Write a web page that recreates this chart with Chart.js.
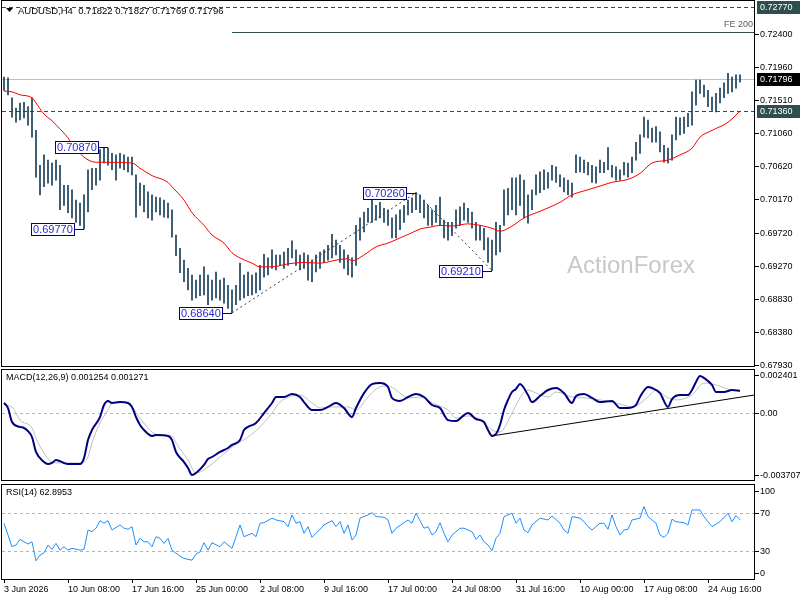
<!DOCTYPE html>
<html>
<head>
<meta charset="utf-8">
<title>AUDUSD H4</title>
<script src="https://cdn.jsdelivr.net/npm/chart.js@4.4.1/dist/chart.umd.min.js"></script>
<style>
  body { margin: 0; background: #fff; }
  #wrap { position: relative; width: 800px; height: 600px; background: #fff; overflow: hidden; }
  canvas { position: absolute; left: 0; }
</style>
</head>
<body>
<div id="wrap">
  <canvas id="mainChart" width="800" height="372" style="top:0"></canvas>
  <canvas id="macdChart" width="800" height="114" style="top:368px"></canvas>
  <canvas id="rsiChart" width="800" height="117" style="top:483px"></canvas>
</div>
<script>
const FONT = '"Liberation Sans", Arial, sans-serif';

// time axis labels, one every 16 bars (8h bars)
const tickLabels = ['3 Jun 2026', '10 Jun 08:00', '17 Jun 16:00', '25 Jun 00:00', '2 Jul 08:00', '9 Jul 16:00',
    '17 Jul 00:00', '24 Jul 08:00', '31 Jul 16:00', '10 Aug 00:00', '17 Aug 08:00', '24 Aug 16:00'];

// price bars (high / low)
const barHigh = [
    0.7182, 0.7181, 0.7154, 0.7140, 0.7147, 0.7148, 0.7142, 0.7154,
    0.7110, 0.7063, 0.7077, 0.7070, 0.7066, 0.7070, 0.7063, 0.7036,
    0.7036, 0.7030, 0.7016, 0.7012, 0.7023, 0.7057, 0.7059, 0.7059,
    0.7084, 0.7087, 0.7086, 0.7079, 0.7077, 0.7079, 0.7077, 0.7074,
    0.7074, 0.7050, 0.7039, 0.7036, 0.7027, 0.7023, 0.7020, 0.7019,
    0.7016, 0.7012, 0.7003, 0.6969, 0.6951, 0.6935, 0.6924, 0.6915,
    0.6908, 0.6915, 0.6926, 0.6915, 0.6908, 0.6919, 0.6908, 0.6911,
    0.6901, 0.6895, 0.6901, 0.6931, 0.6915, 0.6919, 0.6915, 0.6918,
    0.6928, 0.6943, 0.6938, 0.6949, 0.6942, 0.6942, 0.6946, 0.6951,
    0.6961, 0.6949, 0.6942, 0.6945, 0.6942, 0.6935, 0.6942, 0.6946,
    0.6949, 0.6955, 0.6970, 0.6962, 0.6955, 0.6949, 0.6942, 0.6938,
    0.6982, 0.6992, 0.7000, 0.7005, 0.7020, 0.7009, 0.7013, 0.7005,
    0.7003, 0.6992, 0.6996, 0.7003, 0.7009, 0.7016, 0.7019, 0.7026,
    0.7023, 0.7016, 0.7009, 0.7003, 0.7009, 0.7020, 0.6989, 0.6986,
    0.6986, 0.7003, 0.7007, 0.7012, 0.7005, 0.7000, 0.6986, 0.6982,
    0.6978, 0.6965, 0.6962, 0.6986, 0.6982, 0.7030, 0.7032, 0.7046,
    0.7046, 0.7050, 0.7043, 0.7023, 0.7030, 0.7050, 0.7054, 0.7057,
    0.7053, 0.7063, 0.7061, 0.7050, 0.7046, 0.7043, 0.7039, 0.7077,
    0.7074, 0.7070, 0.7067, 0.7063, 0.7061, 0.7070, 0.7067, 0.7087,
    0.7063, 0.7061, 0.7057, 0.7067, 0.7066, 0.7074, 0.7094, 0.7104,
    0.7128, 0.7124, 0.7113, 0.7115, 0.7108, 0.7090, 0.7086, 0.7104,
    0.7128, 0.7127, 0.7128, 0.7133, 0.7162, 0.7178, 0.7178, 0.7171,
    0.7164, 0.7155, 0.7160, 0.7167, 0.7174, 0.7187, 0.7182, 0.7185,
    0.7185
];
const barLow = [
    0.7164, 0.7158, 0.7128, 0.7121, 0.7124, 0.7127, 0.7117, 0.7101,
    0.7047, 0.7023, 0.7034, 0.7039, 0.7036, 0.7043, 0.7003, 0.7009,
    0.6999, 0.6992, 0.6986, 0.6982, 0.6977, 0.7000, 0.7030, 0.7036,
    0.7043, 0.7066, 0.7063, 0.7057, 0.7043, 0.7059, 0.7057, 0.7054,
    0.7050, 0.6993, 0.7009, 0.7000, 0.6992, 0.6989, 0.7000, 0.6996,
    0.6993, 0.6992, 0.6966, 0.6941, 0.6918, 0.6906, 0.6895, 0.6881,
    0.6884, 0.6887, 0.6888, 0.6875, 0.6881, 0.6884, 0.6881, 0.6877,
    0.6870, 0.6864, 0.6875, 0.6881, 0.6884, 0.6887, 0.6888, 0.6891,
    0.6895, 0.6912, 0.6915, 0.6924, 0.6922, 0.6928, 0.6924, 0.6928,
    0.6938, 0.6928, 0.6922, 0.6924, 0.6908, 0.6906, 0.6919, 0.6924,
    0.6932, 0.6935, 0.6938, 0.6942, 0.6932, 0.6924, 0.6915, 0.6912,
    0.6928, 0.6962, 0.6973, 0.6986, 0.6986, 0.6989, 0.6992, 0.6986,
    0.6982, 0.6965, 0.6965, 0.6976, 0.6986, 0.6996, 0.6999, 0.7003,
    0.6999, 0.6992, 0.6982, 0.6982, 0.6986, 0.6982, 0.6965, 0.6962,
    0.6968, 0.6978, 0.6982, 0.6989, 0.6986, 0.6978, 0.6962, 0.6962,
    0.6949, 0.6932, 0.6921, 0.6942, 0.6946, 0.6982, 0.6996, 0.7003,
    0.6996, 0.7009, 0.6992, 0.6985, 0.7003, 0.7023, 0.7026, 0.7030,
    0.7032, 0.7043, 0.7040, 0.7034, 0.7027, 0.7023, 0.7020, 0.7053,
    0.7054, 0.7053, 0.7050, 0.7040, 0.7039, 0.7053, 0.7053, 0.7057,
    0.7047, 0.7043, 0.7043, 0.7050, 0.7047, 0.7053, 0.7070, 0.7079,
    0.7101, 0.7100, 0.7094, 0.7094, 0.7081, 0.7067, 0.7066, 0.7070,
    0.7097, 0.7104, 0.7106, 0.7115, 0.7117, 0.7144, 0.7160, 0.7155,
    0.7142, 0.7137, 0.7135, 0.7147, 0.7154, 0.7160, 0.7162, 0.7167,
    0.7175
];

// moving average [bar, value]
const maLine = [
    [0, 0.7163], [2, 0.7162], [4, 0.7158], [7, 0.7154], [8, 0.7147], [10, 0.7132], [12, 0.7123], [14, 0.7112],
    [16, 0.7100], [17, 0.7092], [20, 0.7074], [23, 0.7067], [27, 0.7067], [32, 0.7066], [34, 0.7059], [37, 0.7049],
    [41, 0.7040], [42, 0.7034], [45, 0.7016], [47, 0.6999], [50, 0.6982], [52, 0.6969], [55, 0.6958], [57, 0.6945],
    [59, 0.6938], [62, 0.6931], [64, 0.6926], [67, 0.6926], [71, 0.6930], [75, 0.6932], [79, 0.6931], [83, 0.6935],
    [86, 0.6937], [87, 0.6934], [90, 0.6942], [93, 0.6953], [96, 0.6958], [99, 0.6965], [102, 0.6972], [104, 0.6977],
    [107, 0.6980], [109, 0.6982], [112, 0.6981], [116, 0.6984], [119, 0.6982], [122, 0.6978], [124, 0.6974], [127, 0.6981],
    [130, 0.6992], [134, 0.7001], [139, 0.7013], [142, 0.7023], [146, 0.7030], [149, 0.7035], [152, 0.7040], [156, 0.7044],
    [159, 0.7052], [162, 0.7066], [166, 0.7070], [169, 0.7077], [172, 0.7086], [174, 0.7101], [177, 0.7110], [181, 0.7121],
    [184, 0.7136]
];

// MACD(12,26,9) main and signal [bar, value]
const macdMain = [
    [0, 0.00057], [1, 0.00029], [2, -0.00049], [4, -0.00076], [5, -0.00082], [6, -0.00099], [7, -0.00132], [8, -0.00215],
    [10, -0.00271], [11, -0.00282], [12, -0.00276], [13, -0.00260], [15, -0.00276], [16, -0.00282], [19, -0.00282], [20, -0.00249],
    [21, -0.00149], [22, -0.00093], [24, -0.00021], [25, 0.00046], [26, 0.00068], [27, 0.00057], [29, 0.00062], [31, 0.00057],
    [32, 0.00035], [33, -0.00021], [34, -0.00065], [35, -0.00093], [37, -0.00126], [38, -0.00121], [41, -0.00126], [42, -0.00149],
    [43, -0.00215], [45, -0.00271], [46, -0.00304], [47, -0.00343], [48, -0.00332], [50, -0.00287], [51, -0.00254], [52, -0.00243],
    [54, -0.00215], [56, -0.00193], [57, -0.00176], [59, -0.00149], [60, -0.00093], [61, -0.00076], [63, -0.00054], [65, 0.00001],
    [67, 0.00057], [68, 0.00090], [70, 0.00090], [72, 0.00107], [74, 0.00090], [75, 0.00062], [77, 0.00018], [79, 0.00018],
    [81, 0.00035], [83, 0.00057], [85, 0.00029], [87, -0.00021], [88, 0.00029], [90, 0.00112], [92, 0.00162], [94, 0.00168],
    [96, 0.00146], [97, 0.00085], [99, 0.00068], [101, 0.00090], [103, 0.00107], [105, 0.00090], [107, 0.00046], [109, 0.00029],
    [111, -0.00038], [113, -0.00043], [115, -0.00010], [116, 0.00001], [118, -0.00032], [120, -0.00049], [121, -0.00093], [122, -0.00126],
    [123, -0.00115], [124, -0.00065], [125, 0.00018], [126, 0.00074], [127, 0.00118], [128, 0.00135], [129, 0.00162], [131, 0.00101],
    [132, 0.00062], [134, 0.00096], [136, 0.00129], [138, 0.00140], [140, 0.00112], [142, 0.00057], [143, 0.00096], [145, 0.00107],
    [147, 0.00085], [149, 0.00062], [152, 0.00068], [154, 0.00029], [156, 0.00029], [158, 0.00046], [159, 0.00090], [161, 0.00146],
    [162, 0.00140], [164, 0.00112], [166, 0.00035], [167, 0.00079], [169, 0.00101], [171, 0.00101], [172, 0.00129], [173, 0.00174],
    [174, 0.00207], [175, 0.00196], [177, 0.00157], [178, 0.00118], [180, 0.00118], [182, 0.00129], [184, 0.001254]
];
const macdSignal = [
    [0, 0.00046], [2, 0.00035], [4, -0.00038], [7, -0.00082], [8, -0.00138], [10, -0.00221], [12, -0.00271], [14, -0.00276],
    [19, -0.00276], [21, -0.00243], [22, -0.00165], [24, -0.00054], [26, 0.00018], [27, 0.00057], [30, 0.00062], [32, 0.00035],
    [34, -0.00027], [37, -0.00104], [39, -0.00121], [42, -0.00126], [43, -0.00165], [46, -0.00260], [48, -0.00332], [51, -0.00299],
    [54, -0.00243], [57, -0.00188], [61, -0.00132], [64, -0.00076], [67, 0.00001], [69, 0.00062], [72, 0.00096], [74, 0.00101],
    [77, 0.00057], [79, 0.00029], [82, 0.00035], [86, 0.00035], [88, 0.00018], [91, 0.00090], [94, 0.00146], [96, 0.00151],
    [99, 0.00112], [101, 0.00085], [104, 0.00090], [107, 0.00057], [111, 0.00018], [113, -0.00027], [116, -0.00015], [119, -0.00038],
    [122, -0.00093], [124, -0.00104], [127, 0.00001], [129, 0.00085], [131, 0.00129], [133, 0.00112], [136, 0.00090], [138, 0.00118],
    [142, 0.00090], [145, 0.00085], [149, 0.00074], [153, 0.00057], [157, 0.00035], [161, 0.00090], [163, 0.00129], [166, 0.00085],
    [168, 0.00074], [172, 0.00101], [175, 0.00168], [178, 0.00157], [182, 0.00129], [184, 0.001271]
];

// RSI(14) [bar, value]
const rsiLine = [
    [0, 59.3], [1, 46.8], [2, 34.3], [3, 36.1], [4, 42.2], [5, 39.6], [6, 37.2], [7, 39.6], [8, 19.3], [9, 25.4],
    [10, 27.9], [11, 36.1], [12, 31.5], [13, 37.9], [14, 30.7], [15, 34.3], [16, 30.7], [17, 32.6], [19, 30.7], [20, 31.5],
    [21, 52.1], [22, 50.3], [23, 54.0], [24, 62.1], [25, 59.3], [26, 62.1], [27, 52.1], [29, 57.5], [30, 54.0], [31, 52.9],
    [32, 55.7], [33, 36.1], [34, 43.3], [35, 39.6], [36, 39.6], [37, 34.3], [38, 45.0], [39, 43.3], [40, 37.9], [41, 43.3],
    [42, 30.7], [44, 24.3], [45, 21.9], [47, 20.0], [48, 26.5], [49, 28.9], [50, 38.6], [51, 30.7], [52, 38.6], [54, 34.3],
    [55, 39.6], [57, 32.6], [58, 45.0], [59, 57.5], [60, 45.0], [62, 48.6], [63, 45.0], [64, 59.3], [65, 59.9], [67, 64.7],
    [68, 62.8], [70, 61.0], [71, 55.7], [72, 68.2], [73, 59.3], [74, 61.0], [75, 48.6], [76, 55.7], [77, 44.3], [78, 48.6],
    [79, 52.9], [80, 57.5], [82, 62.1], [83, 55.7], [84, 61.0], [85, 48.6], [86, 57.5], [87, 41.4], [88, 46.8], [89, 64.7],
    [90, 66.4], [91, 68.2], [92, 70.6], [93, 66.4], [95, 65.7], [96, 62.8], [97, 48.6], [98, 54.0], [99, 57.0], [101, 62.8],
    [102, 59.3], [103, 70.0], [105, 54.0], [106, 55.7], [107, 46.8], [108, 50.3], [109, 59.9], [110, 48.6], [111, 39.6], [112, 46.8],
    [113, 50.3], [114, 54.0], [115, 54.0], [117, 50.3], [118, 42.2], [119, 46.8], [120, 39.6], [121, 36.1], [122, 30.0], [123, 43.3],
    [124, 48.6], [125, 66.4], [126, 68.2], [127, 70.0], [128, 59.3], [129, 64.7], [130, 52.1], [131, 49.2], [132, 57.5], [134, 64.7],
    [136, 62.8], [137, 67.1], [139, 59.3], [140, 52.1], [141, 48.6], [142, 66.4], [144, 64.7], [145, 61.0], [146, 55.7], [147, 52.1],
    [149, 59.3], [150, 59.3], [151, 52.9], [152, 68.2], [153, 55.7], [154, 46.8], [155, 52.1], [156, 52.9], [157, 62.8], [159, 64.7],
    [160, 77.1], [161, 66.4], [162, 62.8], [163, 59.3], [164, 46.8], [165, 44.3], [166, 48.6], [167, 63.6], [168, 61.0], [170, 59.9],
    [171, 57.5], [172, 73.5], [174, 73.5], [175, 66.4], [176, 61.0], [177, 55.7], [179, 61.0], [181, 70.0], [182, 61.0], [183, 67.4],
    [184, 62.8953]
];

// levels, labels and drawn objects
const ohlcLast = [0.71822, 0.71827, 0.71769, 0.71796];
const priceTicks = [0.72400, 0.71960, 0.71510, 0.71060, 0.70620, 0.70170, 0.69720, 0.69270, 0.68830, 0.68380, 0.67930];
const priceRange = [0.67923, 0.72845];
const resistance = 0.72770;
const support = 0.71360;
const fe200 = [57, 0.7243];
const swingLabels = [[26, 0.70870], [20, 0.69770], [57, 0.68640], [103, 0.70260], [122, 0.69210]];
const swingPath = [[57, 0.68640], [103, 0.70260], [122, 0.69210]];
const macdTrend = [[122, -0.00126], [187.5, 0.00101]];
const macdRange = [-0.003707, 0.002401];
const rsiLevels = [70, 30];

const pts = arr => arr.map(([x, y]) => ({ x, y }));

function xAxis(show) {
    return {
        type: 'linear', min: -0.5, max: 187.5, offset: false, bounds: 'data', display: show,
        grid: { display: show, drawOnChartArea: false, drawTicks: true, tickLength: 4, color: '#000', offset: false },
        border: { display: false },
        afterBuildTicks: s => { s.ticks = tickLabels.map((t, k) => ({ value: k * 16 })); },
        afterFit: s => { s.height = show ? 21 : 0; },
        ticks: {
            autoSkip: false, maxRotation: 0, minRotation: 0, align: 'start', padding: 1, color: '#000',
            font: { family: FONT, size: 9 },
            callback: (v, i) => tickLabels[i]
        }
    };
}

function yAxis(min, max) {
    return {
        position: 'right', min, max, bounds: 'data',
        ticks: { display: false }, grid: { display: false }, border: { display: false },
        afterFit: s => { s.width = 46; }
    };
}

function drawFrame(chart) {
    const { ctx, chartArea: a } = chart;
    ctx.save();
    ctx.strokeStyle = '#000';
    ctx.lineWidth = 1;
    ctx.strokeRect(a.left - 0.5, a.top - 0.5, a.width + 1, a.height + 1);
    ctx.restore();
}

function rightLabel(chart, py, text, bg) {
    const { ctx, chartArea: a } = chart;
    ctx.save();
    ctx.font = '9px ' + FONT;
    ctx.textBaseline = 'middle';
    ctx.textAlign = 'left';
    if (bg) {
        ctx.fillStyle = bg;
        ctx.fillRect(a.right + 3, py - 6, 800 - a.right - 3, 13);
        ctx.fillStyle = '#fff';
    } else {
        ctx.strokeStyle = '#000';
        ctx.beginPath();
        ctx.moveTo(a.right + 1, py + 0.5);
        ctx.lineTo(a.right + 5, py + 0.5);
        ctx.stroke();
        ctx.fillStyle = '#000';
    }
    ctx.fillText(text, a.right + 6, py + 0.5);
    ctx.restore();
}

function panelTitle(chart, text) {
    const { ctx, chartArea: a } = chart;
    ctx.save();
    ctx.font = '9px ' + FONT;
    ctx.fillStyle = '#000';
    ctx.textBaseline = 'middle';
    ctx.fillText(text, a.left + 4, a.top + 8);
    ctx.restore();
}

function hLine(chart, v, color, dash, fromX) {
    const { ctx, chartArea: a, scales: { y } } = chart;
    const py = Math.round(y.getPixelForValue(v)) + 0.5;
    ctx.save();
    ctx.strokeStyle = color;
    ctx.lineWidth = 1;
    ctx.setLineDash(dash);
    ctx.beginPath();
    ctx.moveTo(fromX === undefined ? a.left : fromX, py);
    ctx.lineTo(a.right, py);
    ctx.stroke();
    ctx.restore();
}

// Main price panel
const mainDecor = {
    id: 'mainDecor',
    beforeDatasetsDraw(chart) {
        const { ctx, chartArea: a, scales: { x, y } } = chart;
        ctx.save();
        ctx.font = '24px ' + FONT;
        ctx.fillStyle = '#c8c8c8';
        ctx.textBaseline = 'middle';
        ctx.fillText('ActionForex', 567, 266);
        ctx.restore();

        hLine(chart, ohlcLast[3], '#c0c0c0', []);
        hLine(chart, resistance, '#2f4f4f', [4, 3]);
        hLine(chart, support, '#2f4f4f', [4, 3]);
        hLine(chart, fe200[1], '#2f4f4f', [], Math.round(x.getPixelForValue(fe200[0])));

        ctx.save();
        ctx.font = '9px ' + FONT;
        ctx.fillStyle = '#56606a';
        ctx.textAlign = 'right';
        ctx.textBaseline = 'middle';
        ctx.fillText('FE 200', a.right - 1, y.getPixelForValue(fe200[1]) - 7);
        ctx.restore();
    },
    afterDraw(chart) {
        const { ctx, scales: { x, y } } = chart;
        drawFrame(chart);

        priceTicks.forEach(v => rightLabel(chart, Math.round(y.getPixelForValue(v)), v.toFixed(5)));
        rightLabel(chart, Math.round(y.getPixelForValue(resistance)), resistance.toFixed(5), '#2f4f4f');
        rightLabel(chart, Math.round(y.getPixelForValue(support)), support.toFixed(5), '#2f4f4f');
        rightLabel(chart, Math.round(y.getPixelForValue(ohlcLast[3])), ohlcLast[3].toFixed(5), '#000');

        // swing high / low price tags
        ctx.save();
        ctx.lineWidth = 1;
        swingLabels.forEach(([i, v]) => {
            const px = Math.round(x.getPixelForValue(i));
            const py = Math.round(y.getPixelForValue(v)) + 0.5;
            const right = px - 10, left = right - 43;
            ctx.fillStyle = '#fff';
            ctx.fillRect(left, py - 6, 43, 12);
            ctx.strokeStyle = '#000080';
            ctx.strokeRect(left + 0.5, py - 6, 43, 12);
            ctx.beginPath();
            ctx.moveTo(right + 0.5, py);
            ctx.lineTo(px, py);
            ctx.stroke();
            ctx.font = '11px ' + FONT;
            ctx.fillStyle = '#2a2ad0';
            ctx.textBaseline = 'middle';
            ctx.textAlign = 'left';
            ctx.fillText(v.toFixed(5), left + 2, py + 0.5);
        });
        ctx.restore();

        // symbol header
        ctx.save();
        ctx.fillStyle = '#000';
        ctx.beginPath();
        ctx.moveTo(6, 8);
        ctx.lineTo(13, 8);
        ctx.lineTo(9.5, 12);
        ctx.closePath();
        ctx.fill();
        ctx.font = '9.5px ' + FONT;
        ctx.textBaseline = 'middle';
        ctx.fillText('AUDUSD,H4  ' + ohlcLast.map(v => v.toFixed(5)).join(' '), 18, 11);
        ctx.restore();
    }
};

new Chart(document.getElementById('mainChart'), {
    type: 'bar',
    data: {
        datasets: [
            {
                type: 'line', label: 'MA', data: pts(maLine),
                borderColor: '#ff0000', borderWidth: 1, pointRadius: 0, cubicInterpolationMode: 'monotone'
            },
            {
                type: 'line', label: 'Swings', data: pts(swingPath),
                borderColor: '#3a3a3a', borderWidth: 1, borderDash: [2, 3], pointRadius: 0, tension: 0
            },
            {
                label: 'AUDUSD', data: barHigh.map((h, i) => ({ x: i, y: [barLow[i], h] })),
                backgroundColor: '#173f58', borderWidth: 0, barThickness: 1
            }
        ]
    },
    options: {
        responsive: false,
        animation: false,
        events: [],
        layout: { padding: { left: 2, right: 0, top: 1, bottom: 6 } },
        plugins: { legend: { display: false }, tooltip: { enabled: false } },
        scales: {
            x: xAxis(false),
            y: yAxis(priceRange[0], priceRange[1])
        }
    },
    plugins: [mainDecor]
});

// MACD panel
const macdDecor = {
    id: 'macdDecor',
    beforeDatasetsDraw(chart) {
        hLine(chart, 0, '#b4b4b4', [3, 3]);
    },
    afterDraw(chart) {
        const { chartArea: a, scales: { y } } = chart;
        drawFrame(chart);
        const clampY = v => Math.min(Math.max(Math.round(y.getPixelForValue(v)), a.top + 5), a.bottom - 5);
        rightLabel(chart, clampY(macdRange[1]), macdRange[1].toFixed(6));
        rightLabel(chart, clampY(0), '0.00');
        rightLabel(chart, clampY(macdRange[0]), macdRange[0].toFixed(6));
        const last = macdMain[macdMain.length - 1][1], sig = macdSignal[macdSignal.length - 1][1];
        panelTitle(chart, 'MACD(12,26,9) ' + last.toFixed(6) + ' ' + sig.toFixed(6));
    }
};

new Chart(document.getElementById('macdChart'), {
    type: 'line',
    data: {
        datasets: [
            {
                label: 'Trend', data: pts(macdTrend),
                borderColor: '#000', borderWidth: 1, pointRadius: 0, tension: 0
            },
            {
                label: 'MACD', data: pts(macdMain),
                borderColor: '#000080', borderWidth: 2, pointRadius: 0, cubicInterpolationMode: 'monotone'
            },
            {
                label: 'Signal', data: pts(macdSignal),
                borderColor: '#c0c0c0', borderWidth: 1, pointRadius: 0, cubicInterpolationMode: 'monotone'
            }
        ]
    },
    options: {
        responsive: false,
        animation: false,
        events: [],
        layout: { padding: { left: 2, right: 0, top: 2, bottom: 2 } },
        plugins: { legend: { display: false }, tooltip: { enabled: false } },
        scales: {
            x: xAxis(false),
            y: yAxis(macdRange[0], macdRange[1])
        }
    },
    plugins: [macdDecor]
});

// RSI panel
const rsiDecor = {
    id: 'rsiDecor',
    beforeDatasetsDraw(chart) {
        rsiLevels.forEach(v => hLine(chart, v, '#b4b4b4', [3, 3]));
    },
    afterDraw(chart) {
        const { chartArea: a, scales: { y } } = chart;
        drawFrame(chart);
        const clampY = v => Math.min(Math.max(Math.round(y.getPixelForValue(v)), a.top + 6), a.bottom - 6);
        [100, 70, 30, 0].forEach(v => rightLabel(chart, clampY(v), String(v)));
        panelTitle(chart, 'RSI(14) ' + rsiLine[rsiLine.length - 1][1].toFixed(4));
    }
};

new Chart(document.getElementById('rsiChart'), {
    type: 'line',
    data: {
        datasets: [{
            label: 'RSI', data: pts(rsiLine),
            borderColor: '#1e90ff', borderWidth: 1, pointRadius: 0, tension: 0
        }]
    },
    options: {
        responsive: false,
        animation: false,
        events: [],
        layout: { padding: { left: 2, right: 0, top: 2, bottom: 0 } },
        plugins: { legend: { display: false }, tooltip: { enabled: false } },
        scales: {
            x: xAxis(true),
            y: yAxis(0, 100)
        }
    },
    plugins: [rsiDecor]
});
</script>
</body>
</html>
